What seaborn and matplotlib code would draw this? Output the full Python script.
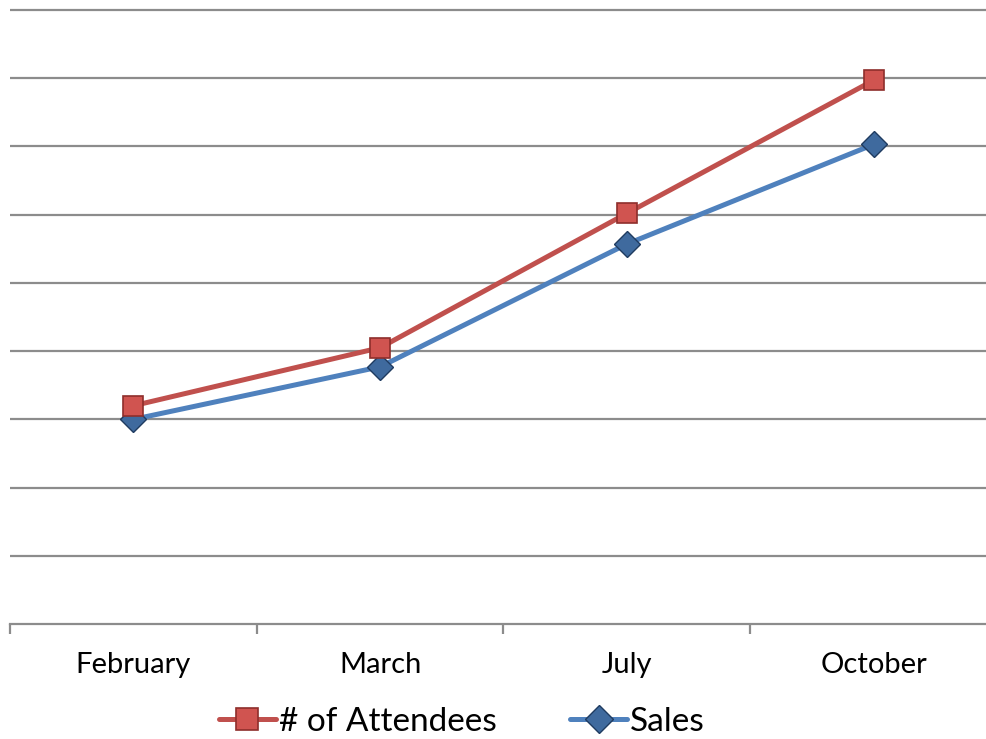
import seaborn as sns
import matplotlib.pyplot as plt
import pandas as pd

# values (one gridline = one unit)
months = ["February", "March", "July", "October"]
attendees = [3.2, 4.05, 6.02, 7.97]
sales = [3.0, 3.77, 5.57, 7.03]

df = pd.DataFrame({
    "Month": months * 2,
    "Value": attendees + sales,
    "Series": ["# of Attendees"] * 4 + ["Sales"] * 4,
})

sns.set_style("white")
plt.rcParams["font.family"] = ["Lato", "DejaVu Sans"]

fig = plt.figure(figsize=(9.87, 7.39), dpi=100)
ax = fig.add_axes([10 / 987, (739 - 624) / 739, 987 / 987, 616 / 739])

sns.lineplot(data=df, x="Month", y="Value", hue="Series", style="Series",
             hue_order=["# of Attendees", "Sales"],
             palette={"# of Attendees": "#C0504D", "Sales": "#4F81BD"},
             markers={"# of Attendees": "s", "Sales": "D"}, dashes=False,
             linewidth=3.6, markersize=15, ax=ax, sort=False)

# square: red fill with a darker rim, diamond: dark blue
styles = [
    dict(zorder=4, markerfacecolor="#D05450", markeredgecolor="#8E2E2B",
         markeredgewidth=1.2, markersize=15),
    dict(zorder=3, markerfacecolor="#3F6A9E", markeredgecolor="#1F3B60",
         markeredgewidth=1.0, markersize=13),
]
for line, st in zip(ax.get_lines()[:2], styles):
    line.set(**st)

ax.set_xlim(-0.5, 3.5)
ax.set_ylim(0, 9.03)
ax.set_yticks(range(1, 10))
ax.set_yticklabels([])
ax.tick_params(axis="y", length=0)
ax.yaxis.grid(True, color="#8C8C8C", linewidth=1.6)
ax.set_axisbelow(True)

ax.set_xticks(range(4))
ax.set_xticklabels(months, fontsize=21, color="black")
ax.set_xticks([-0.5, 0.5, 1.5, 2.5, 3.5], minor=True)
ax.tick_params(axis="x", which="major", length=0, pad=20)
ax.tick_params(axis="x", which="minor", length=7, width=1.6, color="#8C8C8C",
               direction="out", bottom=True)
ax.set_xlabel("")
ax.set_ylabel("")

for side in ["top", "right", "left"]:
    ax.spines[side].set_visible(False)
ax.spines["bottom"].set_color("#8C8C8C")
ax.spines["bottom"].set_linewidth(1.6)

handles, labels = ax.get_legend_handles_labels()
for h, st in zip(handles, styles):
    h.set(**{k: v for k, v in st.items() if k != "zorder"})
    h.set_markersize(st["markersize"] + 1)
leg = ax.legend(handles, labels, loc="center", bbox_to_anchor=(462 / 987, 17 / 739),
                bbox_transform=fig.transFigure, ncol=2, frameon=False, fontsize=24,
                handlelength=1.7, handletextpad=0.1, columnspacing=2.2)
for t in leg.get_texts():
    t.set_color("black")

fig.savefig("out.png", dpi=100)
